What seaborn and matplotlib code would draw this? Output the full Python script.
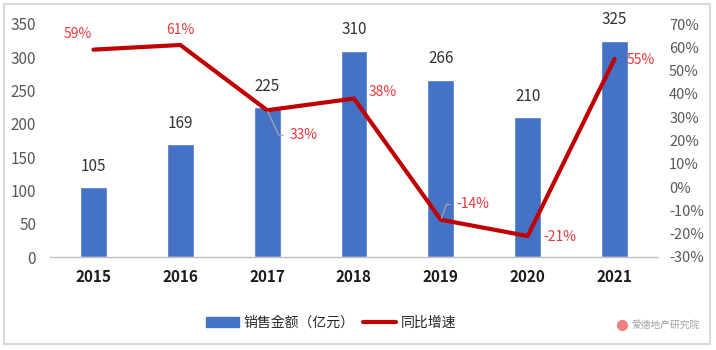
import matplotlib
matplotlib.use("Agg")
import matplotlib.pyplot as plt
import seaborn as sns
import numpy as np
import pandas as pd
from matplotlib.patches import Patch, Rectangle
from matplotlib.lines import Line2D

years = ["2015", "2016", "2017", "2018", "2019", "2020", "2021"]
sales = [105, 169, 225, 310, 266, 210, 325]
growth = [59, 61, 33, 38, -14, -21, 55]
left_ticks = [0, 50, 100, 150, 200, 250, 300, 350]
right_ticks = [-30, -20, -10, 0, 10, 20, 30, 40, 50, 60, 70]
bar_label = "销售金额（亿元）"
line_label = "同比增速"
watermark = "爱德地产研究院"

sns.set_theme(style="white")
plt.rcParams['font.family'] = ['Noto Sans CJK SC', 'DejaVu Sans']

BLUE = "#4472C4"
RED = "#C00000"
LRED = "#E8383D"

fig = plt.figure(figsize=(7.16, 3.5), dpi=100)
fig.patch.set_facecolor("white")
fig.patches.append(Rectangle((4/716, 1-344/350), 706/716, 340/350, transform=fig.transFigure,
                             fill=False, edgecolor="#D9D9D9", lw=1.5))

ax = fig.add_axes([50/716, 1-257/350, 608/716, 233/350])
df = pd.DataFrame({"year": years, "sales": sales})
sns.barplot(data=df, x="year", y="sales", color=BLUE, width=0.31, ax=ax, saturation=1)
ax.set_xlim(-0.5, 6.5)
ax.set_ylim(0, 350)
ax.set_yticks(left_ticks)
ax.set_xlabel("")
ax.set_ylabel("")
for s in ["top", "right", "left"]:
    ax.spines[s].set_visible(False)
ax.spines["bottom"].set_color("#BFBFBF")
ax.spines["bottom"].set_linewidth(1.0)
ax.tick_params(axis="y", labelsize=11, colors="#595959", length=0, pad=10)
ax.tick_params(axis="x", labelsize=11, length=0, pad=9)
for t in ax.get_xticklabels():
    t.set_fontweight("bold")
    t.set_color("#1A1A1A")
for i, v in enumerate(sales):
    ax.annotate(str(v), (i, v), xytext=(0, 9), textcoords="offset points",
                ha="center", va="bottom", fontsize=11, color="#333333")

ax2 = ax.twinx()
sns.lineplot(x=np.arange(len(years)), y=growth, ax=ax2, color=RED, lw=3)
ax2.set_ylim(-30, 70)
ax2.set_yticks(right_ticks)
ax2.set_yticklabels([f"{v}%" for v in right_ticks])
ax2.set_xlim(-0.5, 6.5)
for s in ["top", "right", "left", "bottom"]:
    ax2.spines[s].set_visible(False)
ax2.tick_params(axis="y", labelsize=10.5, colors="#595959", length=0, pad=8)

offsets = [(-11, 11), (0, 11), (26, -18), (21, 5), (23, 11), (23, -1), (19, -1)]
leader_angles = [None, None, -65, None, 70, None, None]
for i, (g, off, ang) in enumerate(zip(growth, offsets, leader_angles)):
    kw = {}
    if ang is not None:
        kw["arrowprops"] = dict(arrowstyle="-", color="#A6A6A6", lw=0.9,
                                shrinkA=2, shrinkB=1,
                                connectionstyle=f"angle,angleA=0,angleB={ang},rad=0")
    ax2.annotate(f"{g}%", (i, g), xytext=off, textcoords="offset points",
                 ha="center", va="center", fontsize=10, color=LRED, **kw)

handles = [Patch(facecolor=BLUE, edgecolor=BLUE),
           Line2D([0], [0], color=RED, lw=3)]
fig.legend(handles, [bar_label, line_label], loc="center", ncol=2,
           bbox_to_anchor=(331/716, 1-323/350), frameon=False, fontsize=10,
           handlelength=2.4, handleheight=0.7, columnspacing=0.6, handletextpad=0.3)

fig.text(632/716, 1-325/350, watermark, fontsize=7, color="#A0A0A0", ha="left", va="center")
fig.add_artist(Line2D([622/716], [1-325/350], marker="o", markersize=7,
                      color="#F08080", transform=fig.transFigure))

fig.savefig("out.png", dpi=100)
